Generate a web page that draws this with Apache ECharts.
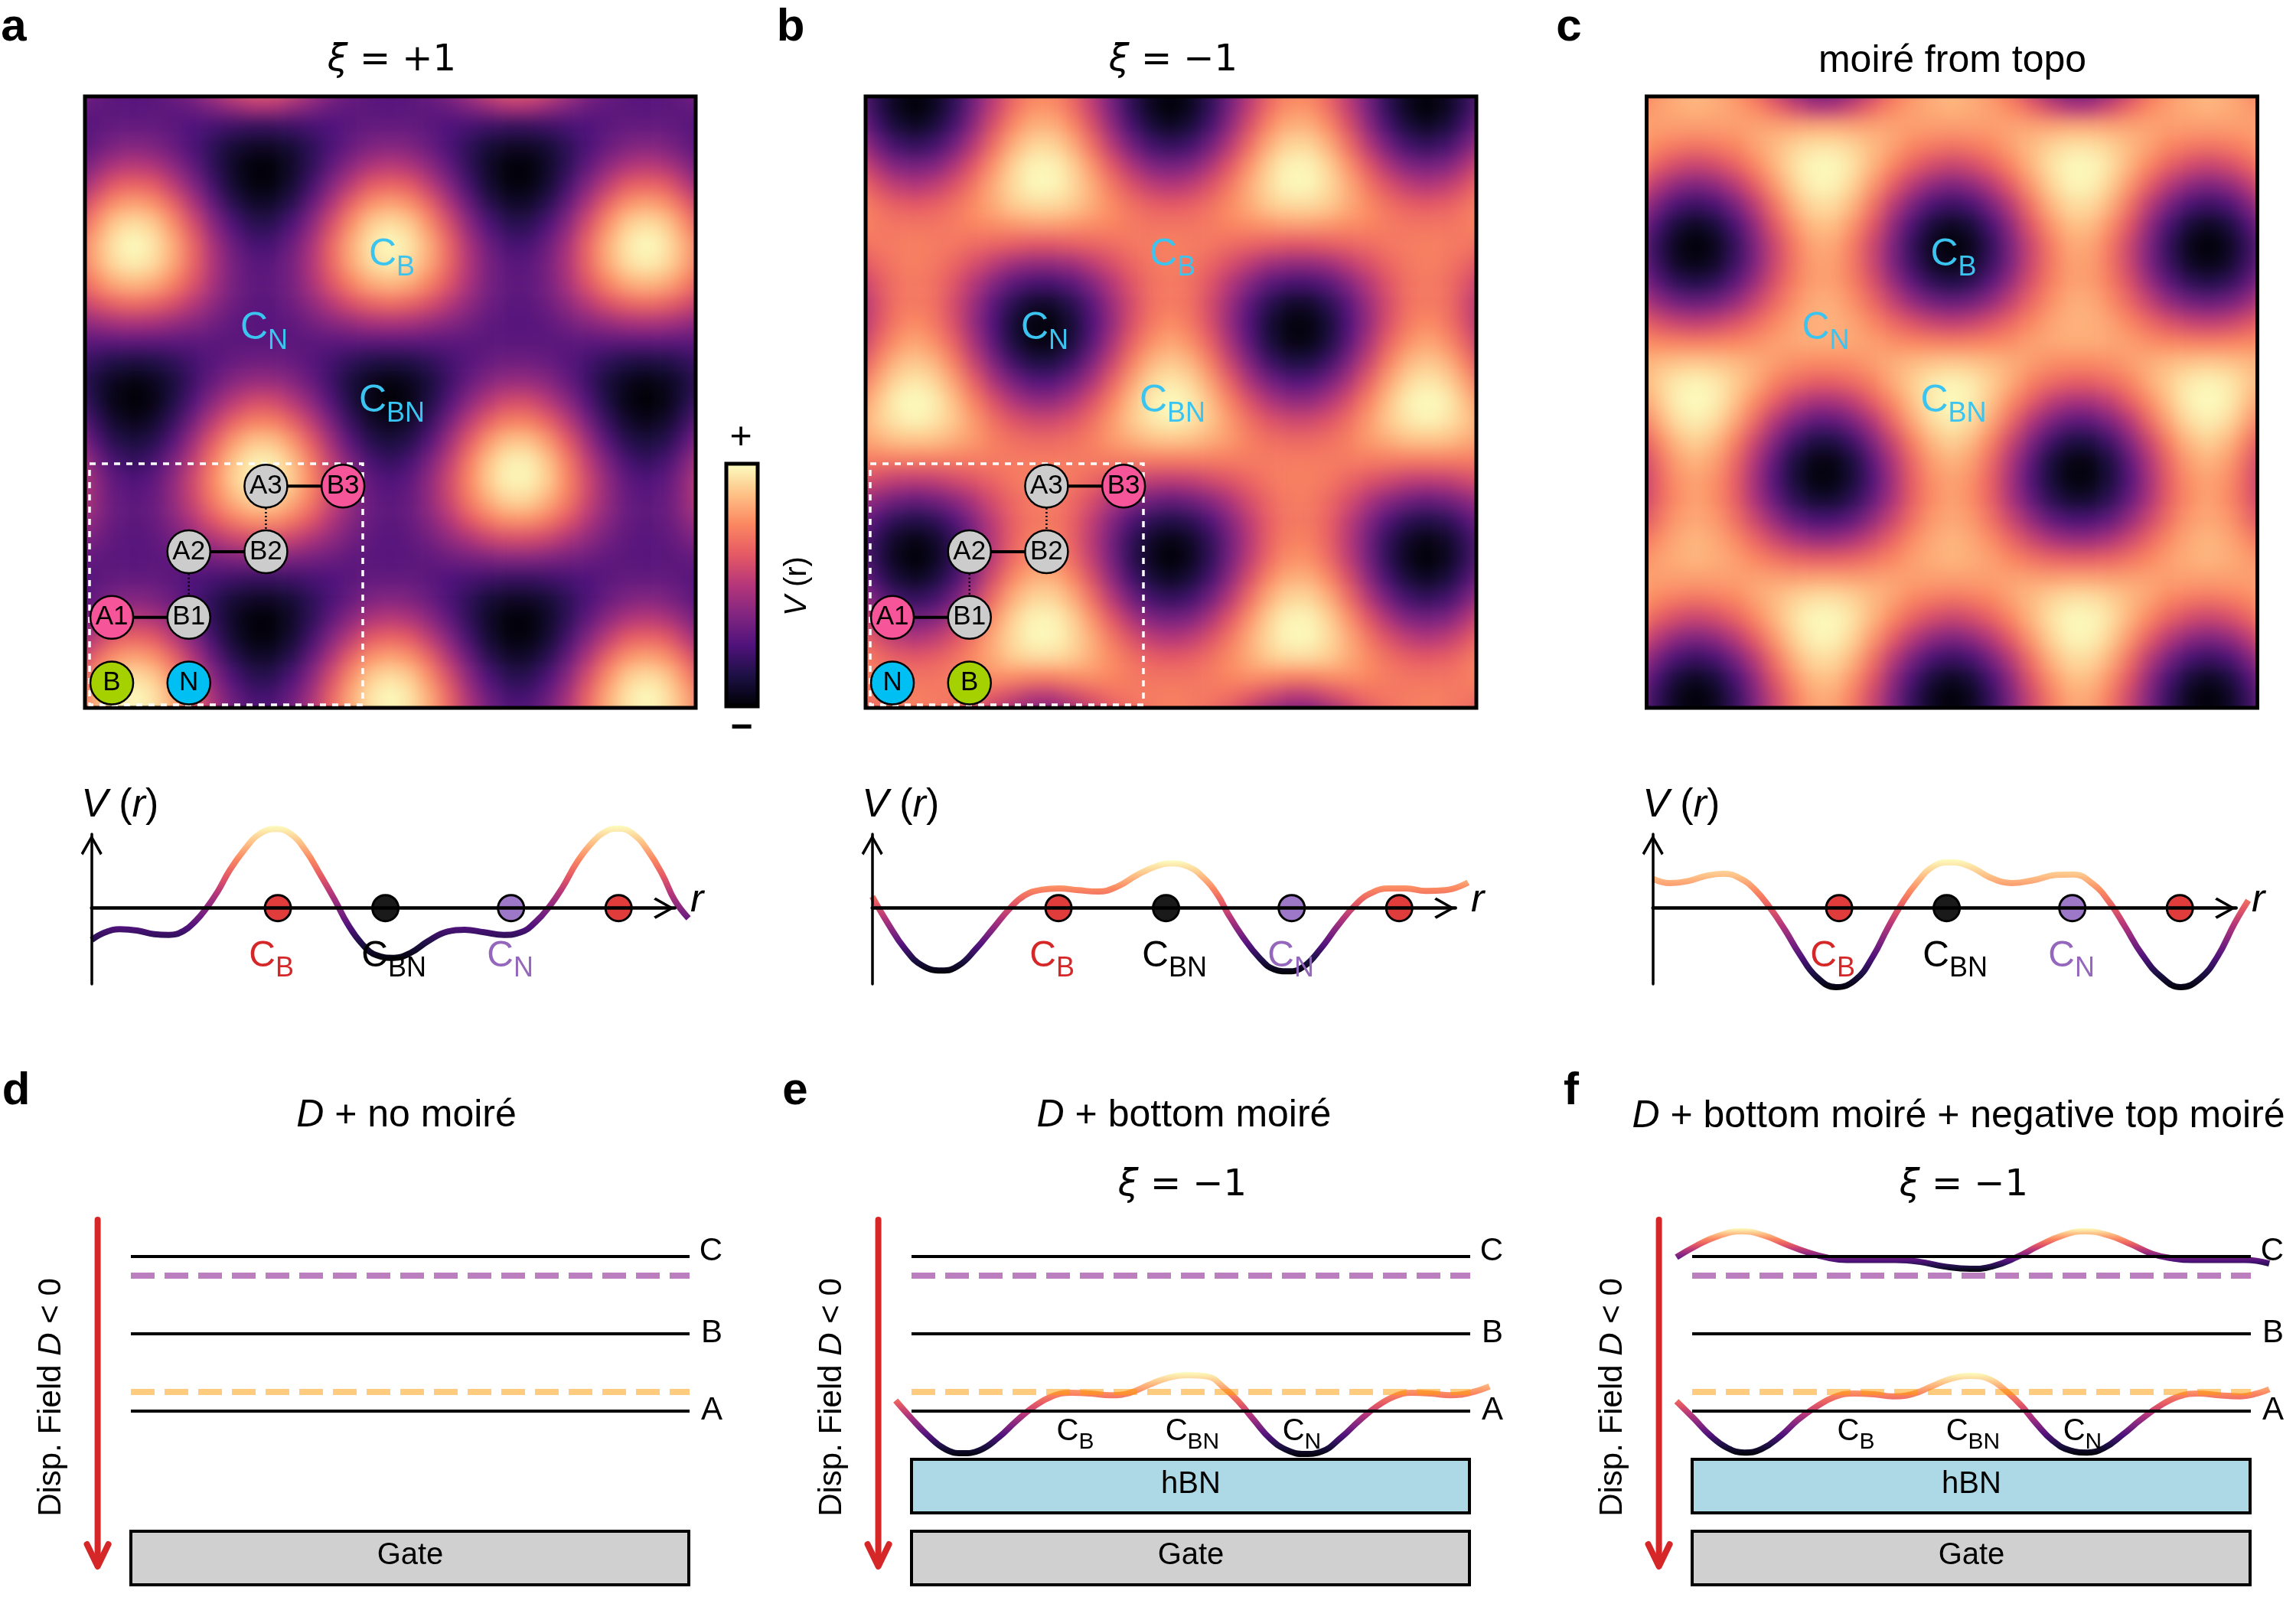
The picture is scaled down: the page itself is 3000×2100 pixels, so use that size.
<!DOCTYPE html>
<html><head><meta charset="utf-8">
<style>html,body{margin:0;padding:0;background:#fff;width:3000px;height:2100px;overflow:hidden}
#clip{position:absolute;left:0;top:0;width:3000px;height:2100px;clip-path:path("M111 126H909V925H111Z M1131 126H1929V925H1131Z M2151.5 126H2949.5V925H2151.5Z")}
#heat{position:absolute;left:0;top:0;width:3000px;height:2100px;filter:blur(10.5px)}
#top{position:absolute;left:0;top:0;width:3000px;height:2100px}</style>
<script src="https://cdn.jsdelivr.net/npm/echarts@6/dist/echarts.min.js"></script></head>
<body><div id="clip"><div id="heat"></div></div><div id="top"></div>
<script>
const heatA=[
[41,34,29,27,29,34,41,52,62,68,68,62,52,41,34,29,27,29,34,41,52,62,68,68,62,52,41,34,29,27,29,34,41],
[32,29,28,27,28,29,32,38,44,50,50,44,38,32,29,28,27,28,29,32,38,44,50,50,44,38,32,29,28,27,28,29,32],
[25,28,30,30,30,28,25,23,21,19,19,21,23,25,28,30,30,30,28,25,23,21,19,19,21,23,25,28,30,30,30,28,25],
[24,31,36,38,36,31,24,17,10,7,7,10,17,24,31,36,38,36,31,24,17,10,7,7,10,17,24,31,36,38,36,31,24],
[29,40,48,51,48,40,29,17,7,1,1,7,17,29,40,48,51,48,40,29,17,7,1,1,7,17,29,40,48,51,48,40,29],
[38,52,63,66,63,52,38,22,9,2,2,9,22,38,52,63,66,63,52,38,22,9,2,2,9,22,38,52,63,66,63,52,38],
[49,66,78,82,78,66,49,31,16,8,8,16,31,49,66,78,82,78,66,49,31,16,8,8,16,31,49,66,78,82,78,66,49],
[59,77,90,94,90,77,59,40,25,16,16,25,40,59,77,90,94,90,77,59,40,25,16,16,25,40,59,77,90,94,90,77,59],
[66,83,95,100,95,83,66,47,32,23,23,32,47,66,83,95,100,95,83,66,47,32,23,23,32,47,66,83,95,100,95,83,66],
[66,82,93,97,93,82,66,49,35,28,28,35,49,66,82,93,97,93,82,66,49,35,28,28,35,49,66,82,93,97,93,82,66],
[61,74,83,86,83,74,61,47,35,29,29,35,47,61,74,83,86,83,74,61,47,35,29,29,35,47,61,74,83,86,83,74,61],
[51,60,66,69,66,60,51,41,33,28,28,33,41,51,60,66,69,66,60,51,41,33,28,28,33,41,51,60,66,69,66,60,51],
[39,43,47,48,47,43,39,34,29,27,27,29,34,39,43,47,48,47,43,39,34,29,27,27,29,34,39,43,47,48,47,43,39],
[28,28,28,28,28,28,28,28,28,28,28,28,28,28,28,28,28,28,28,28,28,28,28,28,28,28,28,28,28,28,28,28,28],
[22,17,13,12,13,17,22,27,31,33,33,31,27,22,17,13,12,13,17,22,27,31,33,33,31,27,22,17,13,12,13,17,22],
[21,11,5,2,5,11,21,31,39,43,43,39,31,21,11,5,2,5,11,21,31,39,43,43,39,31,21,11,5,2,5,11,21],
[26,13,3,0,3,13,26,40,51,58,58,51,40,26,13,3,0,3,13,26,40,51,58,58,51,40,26,13,3,0,3,13,26],
[35,19,8,4,8,19,35,52,65,73,73,65,52,35,19,8,4,8,19,35,52,65,73,73,65,52,35,19,8,4,8,19,35],
[45,27,15,11,15,27,45,63,79,88,88,79,63,45,27,15,11,15,27,45,63,79,88,88,79,63,45,27,15,11,15,27,45],
[53,36,23,18,23,36,53,72,88,97,97,88,72,53,36,23,18,23,36,53,72,88,97,97,88,72,53,36,23,18,23,36,53],
[57,41,29,25,29,41,57,75,90,98,98,90,75,57,41,29,25,29,41,57,75,90,98,98,90,75,57,41,29,25,29,41,57],
[56,42,31,28,31,42,56,72,84,92,92,84,72,56,42,31,28,31,42,56,72,84,92,92,84,72,56,42,31,28,31,42,56],
[50,39,31,28,31,39,50,62,72,78,78,72,62,50,39,31,28,31,39,50,62,72,78,78,72,62,50,39,31,28,31,39,50],
[41,34,29,27,29,34,41,48,55,58,58,55,48,41,34,29,27,29,34,41,48,55,58,58,55,48,41,34,29,27,29,34,41],
[32,29,28,27,28,29,32,34,36,38,38,36,34,32,29,28,27,28,29,32,34,36,38,38,36,34,32,29,28,27,28,29,32],
[25,28,30,30,30,28,25,23,21,19,19,21,23,25,28,30,30,30,28,25,23,21,19,19,21,23,25,28,30,30,30,28,25],
[24,31,36,38,36,31,24,17,10,7,7,10,17,24,31,36,38,36,31,24,17,10,7,7,10,17,24,31,36,38,36,31,24],
[29,40,48,51,48,40,29,17,7,1,1,7,17,29,40,48,51,48,40,29,17,7,1,1,7,17,29,40,48,51,48,40,29],
[38,52,63,66,63,52,38,22,9,2,2,9,22,38,52,63,66,63,52,38,22,9,2,2,9,22,38,52,63,66,63,52,38],
[49,66,78,82,78,66,49,31,16,8,8,16,31,49,66,78,82,78,66,49,31,16,8,8,16,31,49,66,78,82,78,66,49],
[59,77,90,94,90,77,59,40,25,16,16,25,40,59,77,90,94,90,77,59,40,25,16,16,25,40,59,77,90,94,90,77,59],
[66,83,95,100,95,83,66,47,32,23,23,32,47,66,83,95,100,95,83,66,47,32,23,23,32,47,66,83,95,100,95,83,66],
[66,82,93,97,93,82,66,49,35,28,28,35,49,66,82,93,97,93,82,66,49,35,28,28,35,49,66,82,93,97,93,82,66]];
const heatB=[
[34,18,7,3,7,18,34,51,65,73,73,65,51,34,18,7,3,7,18,34,51,65,73,73,65,51,34,18,7,3,7,18,34],
[35,17,5,0,5,17,35,53,68,77,77,68,53,35,17,5,0,5,17,35,53,68,77,77,68,53,35,17,5,0,5,17,35],
[41,23,11,6,11,23,41,60,76,84,84,76,60,41,23,11,6,11,23,41,60,76,84,84,76,60,41,23,11,6,11,23,41],
[51,34,22,18,22,34,51,69,84,92,92,84,69,51,34,22,18,22,34,51,69,84,92,92,84,69,51,34,22,18,22,34,51],
[62,48,37,34,37,48,62,78,91,98,98,91,78,62,48,37,34,37,48,62,78,91,98,98,91,78,62,48,37,34,37,48,62],
[71,60,52,49,52,60,71,83,93,99,99,93,83,71,60,52,49,52,60,71,83,93,99,99,93,83,71,60,52,49,52,60,71],
[76,69,64,62,64,69,76,83,90,93,93,90,83,76,69,64,62,64,69,76,83,90,93,93,90,83,76,69,64,62,64,69,76],
[75,72,70,70,70,72,75,77,79,81,81,79,77,75,72,70,70,70,72,75,77,79,81,81,79,77,75,72,70,70,70,72,75],
[68,71,72,73,72,71,68,66,64,62,62,64,66,68,71,72,73,72,71,68,66,64,62,62,64,66,68,71,72,73,72,71,68],
[59,66,71,73,71,66,59,52,45,42,42,45,52,59,66,71,73,71,66,59,52,45,42,42,45,52,59,66,71,73,71,66,59],
[50,61,69,72,69,61,50,38,28,23,23,28,38,50,61,69,72,69,61,50,38,28,23,23,28,38,50,61,69,72,69,61,50],
[44,58,69,72,69,58,44,28,16,8,8,16,28,44,58,69,72,69,58,44,28,16,8,8,16,28,44,58,69,72,69,58,44],
[42,59,71,76,71,59,42,25,10,2,2,10,25,42,59,71,76,71,59,42,25,10,2,2,10,25,42,59,71,76,71,59,42],
[47,65,77,82,77,65,47,28,12,3,3,12,28,47,65,77,82,77,65,47,28,12,3,3,12,28,47,65,77,82,77,65,47],
[55,73,85,89,85,73,55,37,21,13,13,21,37,55,73,85,89,85,73,55,37,21,13,13,21,37,55,73,85,89,85,73,55],
[65,81,92,96,92,81,65,48,35,27,27,35,48,65,81,92,96,92,81,65,48,35,27,27,35,48,65,81,92,96,92,81,65],
[74,87,97,100,97,87,74,60,49,42,42,49,60,74,87,97,100,97,87,74,60,49,42,42,49,60,74,87,97,100,97,87,74],
[79,89,95,98,95,89,79,69,61,57,57,61,69,79,89,95,98,95,89,79,69,61,57,57,61,69,79,89,95,98,95,89,79],
[79,83,87,88,87,83,79,73,69,67,67,69,73,79,83,87,88,87,83,79,73,69,67,67,69,73,79,83,87,88,87,83,79],
[72,72,72,72,72,72,72,72,72,72,72,72,72,72,72,72,72,72,72,72,72,72,72,72,72,72,72,72,72,72,72,72,72],
[61,57,53,52,53,57,61,66,71,73,73,71,66,61,57,53,52,53,57,61,66,71,73,73,71,66,61,57,53,52,53,57,61],
[49,40,34,31,34,40,49,59,67,72,72,67,59,49,40,34,31,34,40,49,59,67,72,72,67,59,49,40,34,31,34,40,49],
[39,26,17,14,17,26,39,53,65,71,71,65,53,39,26,17,14,17,26,39,53,65,71,71,65,53,39,26,17,14,17,26,39],
[34,18,7,3,7,18,34,51,65,73,73,65,51,34,18,7,3,7,18,34,51,65,73,73,65,51,34,18,7,3,7,18,34],
[35,17,5,0,5,17,35,53,68,77,77,68,53,35,17,5,0,5,17,35,53,68,77,77,68,53,35,17,5,0,5,17,35],
[41,23,11,6,11,23,41,60,76,84,84,76,60,41,23,11,6,11,23,41,60,76,84,84,76,60,41,23,11,6,11,23,41],
[51,34,22,18,22,34,51,69,84,92,92,84,69,51,34,22,18,22,34,51,69,84,92,92,84,69,51,34,22,18,22,34,51],
[62,48,37,34,37,48,62,78,91,98,98,91,78,62,48,37,34,37,48,62,78,91,98,98,91,78,62,48,37,34,37,48,62],
[71,60,52,49,52,60,71,83,93,99,99,93,83,71,60,52,49,52,60,71,83,93,99,99,93,83,71,60,52,49,52,60,71],
[76,69,64,62,64,69,76,83,90,93,93,90,83,76,69,64,62,64,69,76,83,90,93,93,90,83,76,69,64,62,64,69,76],
[75,72,70,70,70,72,75,77,76,74,74,76,77,75,72,70,70,70,72,75,77,76,74,74,76,77,75,72,70,70,70,72,75],
[68,71,72,73,72,71,68,62,56,50,50,56,62,68,71,72,73,72,71,68,62,56,50,50,56,62,68,71,72,73,72,71,68],
[59,66,71,73,71,66,59,46,36,30,30,36,46,59,66,71,73,71,66,59,46,36,30,30,36,46,59,66,71,73,71,66,59]];
const heatC=[
[66,76,82,85,82,76,66,50,36,28,28,36,50,66,76,82,85,82,76,66,50,36,28,28,36,50,66,76,82,85,82,76,66],
[75,80,83,85,83,80,75,66,56,48,48,56,66,75,80,83,85,83,80,75,66,56,48,48,56,66,75,80,83,85,83,80,75],
[81,80,80,80,80,80,81,81,81,82,82,81,81,81,80,80,80,80,80,81,81,81,82,82,81,81,81,80,80,80,80,80,81],
[81,75,72,70,72,75,81,86,91,94,94,91,86,81,75,72,70,72,75,81,86,91,94,94,91,86,81,75,72,70,72,75,81],
[75,65,58,55,58,65,75,85,94,99,99,94,85,75,65,58,55,58,65,75,85,94,99,99,94,85,75,65,58,55,58,65,75],
[64,51,41,37,41,51,64,79,91,98,98,91,79,64,51,41,37,41,51,64,79,91,98,98,91,79,64,51,41,37,41,51,64],
[52,36,24,20,24,36,52,70,85,93,93,85,70,52,36,24,20,24,36,52,70,85,93,93,85,70,52,36,24,20,24,36,52],
[42,24,11,6,11,24,42,62,78,87,87,78,62,42,24,11,6,11,24,42,62,78,87,87,78,62,42,24,11,6,11,24,42],
[37,18,5,0,5,18,37,56,72,82,82,72,56,37,18,5,0,5,18,37,56,72,82,82,72,56,37,18,5,0,5,18,37],
[37,20,7,3,7,20,37,56,71,80,80,71,56,37,20,7,3,7,20,37,56,71,80,80,71,56,37,20,7,3,7,20,37],
[44,29,18,14,18,29,44,60,73,80,80,73,60,44,29,18,14,18,29,44,60,73,80,80,73,60,44,29,18,14,18,29,44],
[55,43,35,32,35,43,55,67,77,83,83,77,67,55,43,35,32,35,43,55,67,77,83,83,77,67,55,43,35,32,35,43,55],
[67,60,55,53,55,60,67,75,81,84,84,81,75,67,60,55,53,55,60,67,75,81,84,84,81,75,67,60,55,53,55,60,67],
[77,75,74,73,74,75,77,80,82,83,83,82,80,77,75,74,73,74,75,77,80,82,83,83,82,80,77,75,74,73,74,75,77],
[83,86,88,89,88,86,83,80,77,76,76,77,80,83,86,88,89,88,86,83,80,77,76,76,77,80,83,86,88,89,88,86,83],
[83,90,96,98,96,90,83,74,68,64,64,68,74,83,90,96,98,96,90,83,74,68,64,64,68,74,83,90,96,98,96,90,83],
[76,88,97,100,97,88,76,64,53,47,47,53,64,76,88,97,100,97,88,76,64,53,47,47,53,64,76,88,97,100,97,88,76],
[67,82,93,97,93,82,67,50,37,29,29,37,50,67,82,93,97,93,82,67,50,37,29,29,37,50,67,82,93,97,93,82,67],
[56,74,86,91,86,74,56,38,22,13,13,22,38,56,74,86,91,86,74,56,38,22,13,13,22,38,56,74,86,91,86,74,56],
[49,67,80,85,80,67,49,29,12,3,3,12,29,49,67,80,85,80,67,49,29,12,3,3,12,29,49,67,80,85,80,67,49],
[46,64,77,81,77,64,46,26,11,2,2,11,26,46,64,77,81,77,64,46,26,11,2,2,11,26,46,64,77,81,77,64,46],
[48,65,76,81,76,65,48,31,17,9,9,17,31,48,65,76,81,76,65,48,31,17,9,9,17,31,48,65,76,81,76,65,48],
[56,69,79,82,79,69,56,42,30,24,24,30,42,56,69,79,82,79,69,56,42,30,24,24,30,42,56,69,79,82,79,69,56],
[66,76,82,85,82,76,66,56,48,43,43,48,56,66,76,82,85,82,76,66,56,48,43,43,48,56,66,76,82,85,82,76,66],
[75,80,83,85,83,80,75,70,66,64,64,66,70,75,80,83,85,83,80,75,70,66,64,64,66,70,75,80,83,85,83,80,75],
[81,80,80,80,80,80,81,81,81,82,82,81,81,81,80,80,80,80,80,81,81,81,82,82,81,81,81,80,80,80,80,80,81],
[81,75,72,70,72,75,81,86,91,94,94,91,86,81,75,72,70,72,75,81,86,91,94,94,91,86,81,75,72,70,72,75,81],
[75,65,58,55,58,65,75,85,94,99,99,94,85,75,65,58,55,58,65,75,85,94,99,99,94,85,75,65,58,55,58,65,75],
[64,51,41,37,41,51,64,79,91,98,98,91,79,64,51,41,37,41,51,64,79,91,98,98,91,79,64,51,41,37,41,51,64],
[52,36,24,20,24,36,52,70,85,93,93,85,70,52,36,24,20,24,36,52,70,85,93,93,85,70,52,36,24,20,24,36,52],
[42,24,11,6,11,24,42,62,78,87,87,78,62,42,24,11,6,11,24,42,62,78,87,87,78,62,42,24,11,6,11,24,42],
[37,18,5,0,5,18,37,56,72,82,82,72,56,37,18,5,0,5,18,37,56,72,82,82,72,56,37,18,5,0,5,18,37],
[37,20,7,3,7,20,37,56,71,80,80,71,56,37,20,7,3,7,20,37,56,71,80,80,71,56,37,20,7,3,7,20,37]];

const rCurveA=[0,28,58,93,128,158,188,213,233,258,283,313,343,378,408,438,468,498,523,553,583,618,653,688,728,763,803,843,878,908,938,963,993,1023,1053,1078,1108,1138,1168,1193,1221];
const vCurveA=[-125,-95,-83,-88,-102,-105,-90,-50,-5,65,150,230,290,310,290,225,130,30,-60,-140,-185,-195,-175,-130,-92,-85,-95,-105,-95,-55,10,80,180,255,302,312,290,225,130,30,-40];
const rCurveB=[0,32,67,102,142,177,212,247,282,312,347,382,422,462,502,542,582,612,647,677,707,727,757,792,822,852,882,917,952,992,1022,1057,1092,1132,1172,1219];
const vCurveB=[45,-60,-160,-225,-245,-225,-160,-80,0,50,72,77,70,65,85,130,165,175,162,120,50,-20,-110,-195,-240,-248,-230,-160,-70,20,60,77,77,67,70,100];
const rCurveC=[0,35,70,110,145,180,210,240,270,300,335,375,415,450,480,510,540,575,610,650,690,735,780,825,860,900,935,965,1000,1040,1080,1120,1155,1190,1218];
const vCurveC=[115,98,105,127,135,115,70,0,-85,-180,-270,-310,-280,-190,-80,20,100,165,180,162,120,98,110,130,132,95,20,-70,-180,-270,-310,-275,-190,-60,30];
const markerR=[381,601,858,1078];
const markerColors=['#e03c3c','#1a1a1a','#9e78c8','#e03c3c'];
const rBandE=[0,32,67,102,137,172,212,247,282,322,362,402,442,482,522,562,602,642,677,707,737,772,807,842,877,917,952,992,1027,1062,1102,1142,1182,1222];
const vBandE=[30,-20,-70,-108,-120,-112,-75,-30,10,42,52,50,45,52,75,95,102,98,65,25,-25,-80,-112,-122,-115,-75,-30,15,42,52,50,45,52,70];
const rBandF=[0,35,70,105,140,175,215,250,285,325,365,405,445,485,525,565,605,645,680,710,740,775,810,845,880,920,955,995,1035,1075,1115,1160,1195,1220];
const vBandF=[28,-20,-70,-105,-118,-108,-70,-25,10,40,50,48,42,48,70,92,100,90,55,15,-35,-85,-112,-118,-105,-65,-25,15,42,50,45,42,50,62];
const rTopF=[0,40,85,135,180,225,270,310,350,400,450,500,550,605,650,700,745,795,840,890,935,980,1020,1060,1120,1170,1220];
const vTopF=[-2,30,58,72,60,35,12,-3,-10,-10,-10,-15,-28,-35,-28,-2,30,60,72,60,35,7,-5,-10,-10,-10,-20];
const solidLevels=[202,101,0];
const dashedLevels=[177,25];
const atomColumns=[0,1,1,2,2,3,0,1];
const atomRows=[1,1,2,2,3,3,0,0];
const atomNames=['A1','B1','A2','B2','A3','B3'];
const magma=['#000004','#1c1044','#4f127b','#812581','#b5367a','#e55964','#fb8761','#fec287','#fcfdbf'];

const SANS='"Liberation Sans",Arial,sans-serif', MATH='"DejaVu Sans",sans-serif';
const FX=[111,1131,2151.5], FY=126, FS=798, CELL=FS/31, FH=799;
const heatGrids=[],heatX=[],heatY=[],heatS=[];
[heatA,heatB,heatC].forEach((rows,i)=>{
  heatGrids.push({left:FX[i]-CELL,top:FY-CELL,width:FS+2*CELL,height:FS+2*CELL});
  const idx=rows[0].map((_,c)=>c);
  heatX.push({type:'category',gridIndex:i,data:idx,show:false});
  heatY.push({type:'category',gridIndex:i,data:rows.map((_,k)=>k),inverse:true,show:false});
  const d=[];rows.forEach((r,k)=>r.forEach((v,c)=>d.push([c,k,v])));
  heatS.push({type:'heatmap',xAxisIndex:i,yAxisIndex:i,data:d,progressive:0,itemStyle:{borderWidth:0}});
});
echarts.init(document.getElementById('heat'),null,{renderer:'canvas',devicePixelRatio:1}).setOption({
  animation:false,grid:heatGrids,xAxis:heatX,yAxis:heatY,series:heatS,
  visualMap:{show:false,min:0,max:100,inRange:{color:magma},seriesIndex:[0,1,2]}
});

const grid=[],xAxis=[],yAxis=[],series=[],graphic=[];
function addGrid(l,t,w,h,xr,yr,extra){
  const i=grid.length;
  grid.push(Object.assign({left:l,top:t,width:w,height:h,show:false},extra||{}));
  xAxis.push({type:'value',gridIndex:i,min:xr[0],max:xr[1],show:false});
  yAxis.push({type:'value',gridIndex:i,min:yr[0],max:yr[1],show:false});
  return i;
}
function txt(x,y,style,rot,z){
  graphic.push({type:'text',x,y,rotation:rot||0,z:z||20,silent:true,style:Object.assign({align:'center',verticalAlign:'middle',textAlign:'center',textVerticalAlign:'middle',fill:'#000'},style)});
}
function plain(x,y,s,size,fam,extra){txt(x,y,Object.assign({text:s,fontSize:size,fontFamily:fam||SANS},extra||{}));}
function sub(x,y,m,s,color,fs,ss){
  const pad=Math.round(fs*0.68);
  txt(x,y,{text:`{m|${m}}{s|${s}}`,rich:{
    m:{fontSize:fs,fontFamily:SANS,fill:color,lineHeight:fs},
    s:{fontSize:ss,fontFamily:SANS,fill:color,lineHeight:ss,padding:[pad,0,0,0]}}});
}
function mixed(x,y,parts,size,fam,rot){
  const rich={i:{fontSize:size,fontFamily:fam,fontStyle:'italic',fill:'#000'},n:{fontSize:size,fontFamily:fam,fill:'#000'}};
  txt(x,y,{text:parts.map(p=>`{${p[0]}|${p[1]}}`).join(''),rich},rot);
}
function curve(g,rs,vs,lw){
  series.push({type:'line',xAxisIndex:g,yAxisIndex:g,data:rs.map((r,i)=>[r,vs[i]]),smooth:0.45,showSymbol:false,clip:false,z:3,silent:true,
    lineStyle:{width:lw,cap:'butt',color:{type:'linear',x:0,y:1,x2:0,y2:0,colorStops:magma.map((c,i)=>({offset:i/8,color:c}))}}});
}
// panel letters and titles
[['a',18,36],['b',1033,36],['c',2050,36],['d',21,1426],['e',1039,1426],['f',2053,1426]].forEach(l=>plain(l[1],l[2],l[0],60,SANS,{fontWeight:'bold'}));
mixed(512,80,[['i','ξ'],['n',' = +1']],48,MATH);
mixed(1533,80,[['i','ξ'],['n',' = −1']],48,MATH);
plain(2551,80,'moiré from topo',50);
mixed(531,1458,[['i','D'],['n',' + no moiré']],50,SANS);
mixed(1547,1458,[['i','D'],['n',' + bottom moiré']],50,SANS);
mixed(2559,1459,[['i','D'],['n',' + bottom moiré + negative top moiré']],50,SANS);
mixed(1545,1550,[['i','ξ'],['n',' = −1']],48,MATH);
mixed(2566,1550,[['i','ξ'],['n',' = −1']],48,MATH);

// heat frames, nodes and labels
const atomPanels=[['#a5d100','#00bff3','B','N'],['#00bff3','#a5d100','N','B']];
FX.forEach((fx,p)=>{
  const g=addGrid(fx,FY,FS,FH,[-0.348,7.577],[-0.379,8.94],{show:true,borderColor:'#000',borderWidth:5,backgroundColor:'transparent'});
  const cx=fx+401; 
  sub(cx,333,'C','B','#3cc4f0',50,36);
  sub(fx+234,429,'C','N','#3cc4f0',50,36);
  sub(cx,524,'C','BN','#3cc4f0',50,36);
  if(p===2)return;
  graphic.push({type:'rect',z:5,silent:true,shape:{x:fx+6,y:606,width:357,height:315},style:{fill:'none',stroke:'#fff',lineWidth:3.5,lineDash:[8,8]}});
  [[0,1],[2,3],[4,5]].forEach(b=>series.push({type:'line',xAxisIndex:g,yAxisIndex:g,z:5,silent:true,showSymbol:false,
    data:b.map(k=>[atomColumns[k],atomRows[k]]),lineStyle:{color:'#000',width:4}}));
  [[1,2],[3,4]].forEach(b=>series.push({type:'line',xAxisIndex:g,yAxisIndex:g,z:5,silent:true,showSymbol:false,
    data:b.map(k=>[atomColumns[k],atomRows[k]]),lineStyle:{color:'#000',width:2.5,type:[2,3]}}));
  const pink='#f7559a',gray='#cccccc';
  const fills=[pink,gray,gray,gray,gray,pink,atomPanels[p][0],atomPanels[p][1]];
  const names=atomNames.concat([atomPanels[p][2],atomPanels[p][3]]);
  series.push({type:'scatter',xAxisIndex:g,yAxisIndex:g,z:6,silent:true,symbolSize:56,
    data:atomColumns.map((c,k)=>({value:[c,atomRows[k]],name:names[k],itemStyle:{color:fills[k],borderColor:'#000',borderWidth:2.5,opacity:1},
      label:{show:true,position:'inside',formatter:names[k],color:'#000',fontSize:35,fontFamily:SANS}}))});
});

// colour bar
const dummy=series.length;
series.push({type:'scatter',xAxisIndex:0,yAxisIndex:0,data:[],silent:true});
const visualMap={show:true,type:'continuous',seriesIndex:[dummy],min:0,max:100,calculable:false,hoverLink:false,left:949,top:606,itemWidth:41,itemHeight:317,padding:0,text:null,inRange:{color:magma},textStyle:{color:'transparent'}};
graphic.push({type:'rect',z:8,silent:true,shape:{x:949,y:606,width:41,height:317},style:{fill:'none',stroke:'#000',lineWidth:5}});
plain(968,572,'+',50);plain(969,952,'−',50,SANS,{fontWeight:'bold'});
mixed(1042,766,[['i','V'],['n',' (r)']],40,SANS,Math.PI/2);

// V(r) panels
const chevron='path://M50,0 L100,88 L90,97 L50,24 L10,97 L0,88 Z';
[[rCurveA,vCurveA],[rCurveB,vCurveB],[rCurveC,vCurveC]].forEach((c,p)=>{
  const l=119.7+1020*p;
  const i=grid.length;
  grid.push({left:l,top:1090,width:762,height:196,show:false});
  xAxis.push({type:'value',gridIndex:i,min:0,max:1193,z:8,splitLine:{show:false},axisTick:{show:false},axisLabel:{show:false},
    axisLine:{show:true,onZero:true,symbol:['none',chevron],symbolSize:[28,28],symbolOffset:[0,-14],lineStyle:{color:'#000',width:4.5}}});
  yAxis.push({type:'value',gridIndex:i,min:-298,max:290,z:8,splitLine:{show:false},axisTick:{show:false},axisLabel:{show:false},
    axisLine:{show:true,onZero:true,symbol:['none',chevron],symbolSize:[28,28],symbolOffset:[0,-14],lineStyle:{color:'#000',width:3.5}}});
  const cg=addGrid(l,1186.67-400/3,1260*762/1193,800/3,[0,1260],[-400,400]);
  curve(cg,c[0],c[1],8);
  series.push({type:'scatter',xAxisIndex:i,yAxisIndex:i,z:4,silent:true,symbolSize:34,
    data:markerR.map((r,k)=>({value:[r,0],itemStyle:{color:markerColors[k],borderColor:'#000',borderWidth:3,opacity:1}}))});
  mixed(l+37,1053,[['i','V'],['n',' ('],['i','r'],['n',')']],52,SANS);
  mixed(l+791,1177,[['i','r']],52,SANS);
  sub(l+235,1250,'C','B','#d62728',48,36);
  sub(l+395,1250,'C','BN','#000',48,36);
  sub(l+547,1250,'C','N','#9467bd',48,36);
});

// band diagrams
[170,1190,2210].forEach((x0,p)=>{
  const g=addGrid(x0+1,1600,730,244,[0,1],[0,244]);
  const bandCurves=[];
  if(p===1)bandCurves.push(addGrid(1170.2,1788.8,775.9,119.5,[0,1222],[-140,120]));
  if(p===2){bandCurves.push(addGrid(2190.5,1788.8,774.6,119.5,[0,1220],[-140,120]));}
  if(p===1)curve(bandCurves[0],rBandE,vBandE,8);
  if(p===2){curve(bandCurves[0],rBandF,vBandF,8);
    const t=addGrid(2190.5,1600.6,774.6,64.4,[0,1220],[-50,90]);curve(t,rTopF,vTopF,8);}
  solidLevels.forEach(v=>series.push({type:'line',xAxisIndex:g,yAxisIndex:g,z:5,silent:true,showSymbol:false,data:[[0,v],[1,v]],lineStyle:{color:'#000',width:4}}));
  const dc=['rgba(119,0,128,0.5)','rgba(255,153,0,0.5)'];
  dashedLevels.forEach((v,k)=>series.push({type:'line',xAxisIndex:g,yAxisIndex:g,z:5,silent:true,showSymbol:false,data:[[0,v],[1,v]],lineStyle:{color:dc[k],width:8,type:[31,13]}}));
  const rx=x0+759;
  plain(rx,1635,'C',42);plain(rx+1,1742,'B',42);plain(rx+1,1843,'A',42);
  // gate
  graphic.push({type:'rect',z:2,silent:true,shape:{x:x0+1,y:2001,width:729,height:70},style:{fill:'#d0d0d0',stroke:'#000',lineWidth:4}});
  plain(x0+366,2033,'Gate',40);
  if(p>0){graphic.push({type:'rect',z:2,silent:true,shape:{x:x0+1,y:1907,width:729,height:70},style:{fill:'#add8e6',stroke:'#000',lineWidth:4}});
    plain(x0+366,1940,'hBN',40);
    sub(x0+215,1871,'C','B','#000',40,30);sub(x0+368,1871,'C','BN','#000',40,30);sub(x0+511,1871,'C','N','#000',40,30);}
  // displacement field arrow and label
  const ax=x0-42.4;
  graphic.push({type:'polyline',z:6,silent:true,shape:{points:[[ax,1594],[ax,2044]]},style:{stroke:'#d62728',lineWidth:8,lineCap:'round',fill:'none'}});
  graphic.push({type:'polyline',z:6,silent:true,shape:{points:[[ax-14,2018],[ax,2047],[ax+14,2018]]},style:{stroke:'#d62728',lineWidth:8,lineCap:'round',lineJoin:'round',fill:'none'}});
  mixed(x0-103,1826,[['n','Disp. Field '],['i','D'],['n',' < 0']],42,SANS,Math.PI/2);
});

echarts.init(document.getElementById('top'),null,{renderer:'canvas',devicePixelRatio:1}).setOption({
  animation:false,grid,xAxis,yAxis,series,visualMap,graphic:{elements:graphic}
});
</script></body></html>
